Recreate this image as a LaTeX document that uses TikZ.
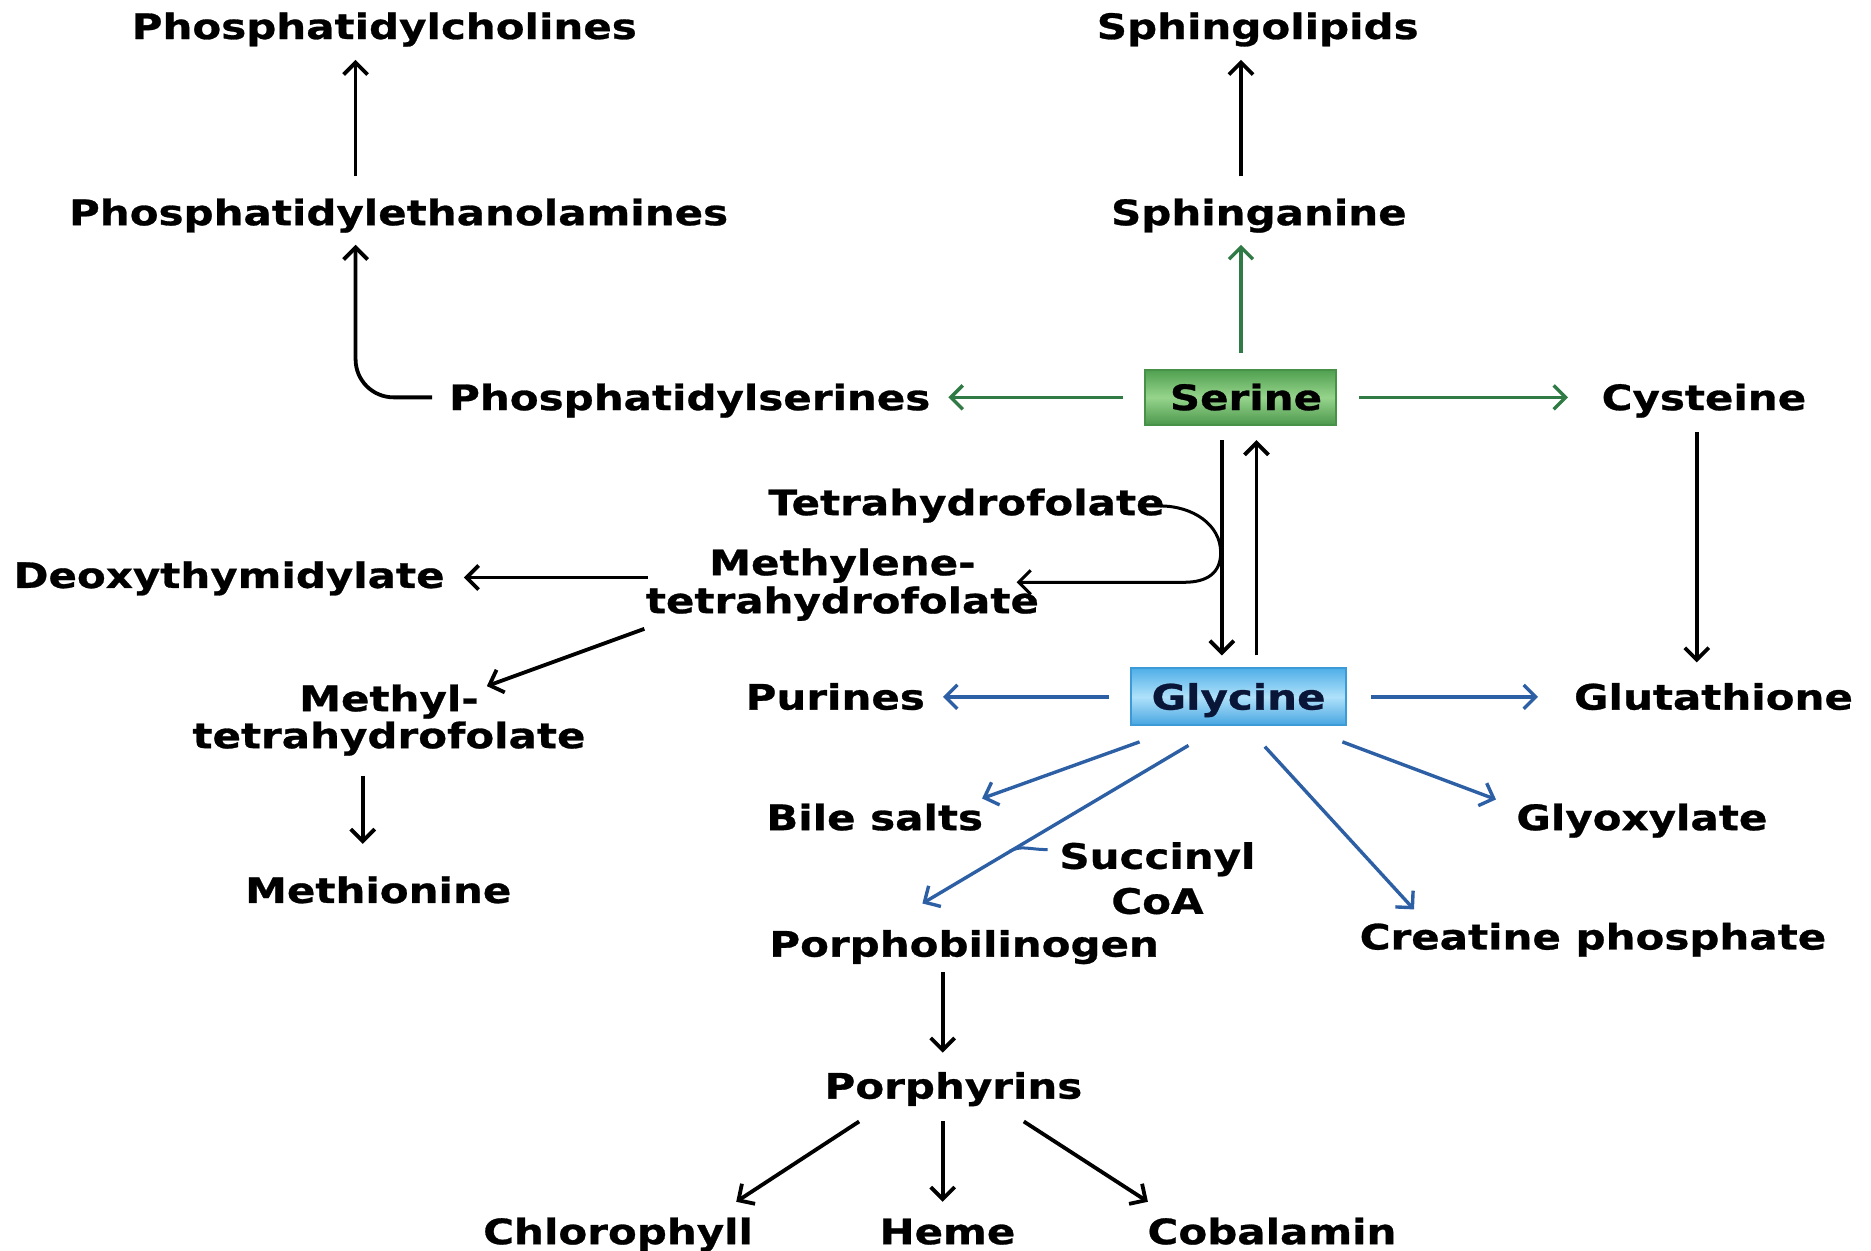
\documentclass[tikz,border=0pt]{standalone}
\usepackage{fontspec}
\newfontfamily\labfont{DejaVu Sans}[FakeStretch=1.2,FakeBold=0.8]
\usetikzlibrary{arrows.meta}
\definecolor{sgreen}{RGB}{47,122,69}
\definecolor{gblue}{RGB}{45,95,165}
\definecolor{serborder}{RGB}{72,145,72}
\definecolor{glyborder}{RGB}{60,155,215}
\definecolor{glytext}{RGB}{10,22,55}
\begin{document}
\begin{tikzpicture}[x=1.1932pt,y=-1.1932pt,
  lbl/.style={inner sep=0pt, text height=25.5pt, text depth=0pt,
    font=\labfont\bfseries\fontsize{35}{38}\selectfont},
  ml/.style={inner sep=0pt, align=center,
    font=\labfont\bfseries\fontsize{35}{#1}\selectfont},
  arr/.style={line width=3.8pt, -{Straight Barb[length=12pt,width=24pt]}},
  garr/.style={arr, draw=sgreen, line width=3.4pt},
  barr/.style={arr, draw=gblue, line width=3.4pt},
  serbox/.style={lbl, draw=serborder, line width=2pt, minimum width=191pt, minimum height=55pt,
    top color={rgb,255:red,80;green,160;blue,80}, bottom color={rgb,255:red,76;green,152;blue,76},
    middle color={rgb,255:red,150;green,212;blue,140}},
  glybox/.style={lbl, draw=glyborder, line width=2pt, minimum width=215pt, minimum height=57pt,
    top color={rgb,255:red,80;green,175;blue,232}, bottom color={rgb,255:red,70;green,165;blue,225},
    middle color={rgb,255:red,175;green,225;blue,250}, text=glytext}]
\useasboundingbox (0,0) rectangle (1568,1048);
% nodes
\node[lbl] (pc) at (322,22) {Phosphatidylcholines};
\node[lbl] (sl) at (1054,22) {Sphingolipids};
\node[lbl] (pe) at (334,178) {Phosphatidylethanolamines};
\node[lbl] (sg) at (1055,178) {Sphinganine};
\node[lbl] (ps) at (578,333) {Phosphatidylserines};
\node[serbox] (ser) at (1040,333) {\hspace*{10pt}Serine};
\node[lbl] (cys) at (1428,333) {Cysteine};
\node[lbl] (thf) at (810,421) {Tetrahydrofolate};
\node[ml=38pt] (mthf) at (706,490) {Methylene-\\tetrahydrofolate};
\node[lbl] (dtmp) at (192,482) {Deoxythymidylate};
\node[ml=37pt] (methyl) at (326,603.5) {Methyl-\\tetrahydrofolate};
\node[lbl] (met) at (317,746) {Methionine};
\node[lbl] (pur) at (700,584) {Purines};
\node[glybox] (gly) at (1038,584) {Glycine};
\node[lbl] (glu) at (1436,584) {Glutathione};
\node[lbl] (bile) at (733,685) {Bile salts};
\node[ml=45pt] (succ) at (970,736) {Succinyl\\CoA};
\node[lbl] (glyox) at (1376,685) {Glyoxylate};
\node[lbl] (pbg) at (808,791) {Porphobilinogen};
\node[lbl] (cre) at (1335,785) {Creatine phosphate};
\node[lbl] (por) at (799,910) {Porphyrins};
\node[lbl] (chl) at (518,1032) {Chlorophyll};
\node[lbl] (heme) at (794,1032) {Heme};
\node[lbl] (cob) at (1066,1032) {Cobalamin};
% black connectors (upper left)
\draw[arr] ([shift={(-36,-19.3)}]pe.north) -- ([shift={(-24,17.3)}]pc.south);
\draw[arr, rounded corners=38pt] ([shift={(-14,0)}]ps.west) -| ([shift={(-36,16.3)}]pe.south);
\draw[arr] ([shift={(-15,-19.3)}]sg.north) -- ([shift={(-14,17.3)}]sl.south);
% green connectors
\draw[garr] ([shift={(0,-13)}]ser.north) -- ([shift={(-15,16.3)}]sg.south);
\draw[garr] ([shift={(-18,0)}]ser.west) -- ([shift={(15,0)}]ps.east);
\draw[garr] ([shift={(18,0)}]ser.east) -- ([shift={(-28,0)}]cys.west);
% serine <-> glycine
\draw[arr] ([shift={(-16,12)}]ser.south) -- ([shift={(-14,-10)}]gly.north);
\draw[arr] ([shift={(15,-10)}]gly.north) -- ([shift={(13,12)}]ser.south);
% tetrahydrofolate loop
\draw[arr, line width=3pt] ([shift={(-4,3)}]thf.east) .. controls (1000,424) and (1023,440) .. (1023,463)
  .. controls (1023,480) and (1012,488) .. (992,488) -- ([shift={(146,-2)}]mthf.center);
\draw[arr] ([shift={(-163,-6)}]mthf.center) -- ([shift={(16,2)}]dtmp.east);
\draw[arr] ([shift={(-166,37)}]mthf.center) -- ([shift={(82,-28.5)}]methyl.center);
\draw[arr] ([shift={(-22,46.5)}]methyl.center) -- ([shift={(-13,-28)}]met.north);
% cysteine -> glutathione
\draw[arr] ([shift={(-6,18)}]cys.south) -- ([shift={(-14,-18)}]glu.north);
% blue connectors from glycine
\draw[barr] ([shift={(-18,0)}]gly.west) -- ([shift={(15,0)}]pur.east);
\draw[barr] ([shift={(20,0)}]gly.east) -- ([shift={(-30,0)}]glu.west);
\draw[barr] ([shift={(-83,13)}]gly.south) -- ([shift={(90,-5)}]bile.north);
\draw[barr] ([shift={(-42,16)}]gly.south) -- ([shift={(-35,-23)}]pbg.north);
\draw[gblue, line width=3pt] ([shift={(-92,-24)}]succ.center) .. controls (862,712) and (856,708) .. (846,713.5);
\draw[barr] ([shift={(22,17)}]gly.south) -- ([shift={(-150,-12)}]cre.north);
\draw[barr] ([shift={(87,13)}]gly.south) -- ([shift={(-17,-15)}]glyox.west);
% porphyrins
\draw[arr] ([shift={(-18,13)}]pbg.south) -- ([shift={(-9,-17)}]por.north);
\draw[arr] ([shift={(-79,19)}]por.south) -- ([shift={(99,-14)}]chl.north);
\draw[arr] ([shift={(-9,19)}]por.south) -- ([shift={(-4,-14)}]heme.north);
\draw[arr] ([shift={(59,19)}]por.south) -- ([shift={(-104,-14)}]cob.north);
\end{tikzpicture}
\end{document}
